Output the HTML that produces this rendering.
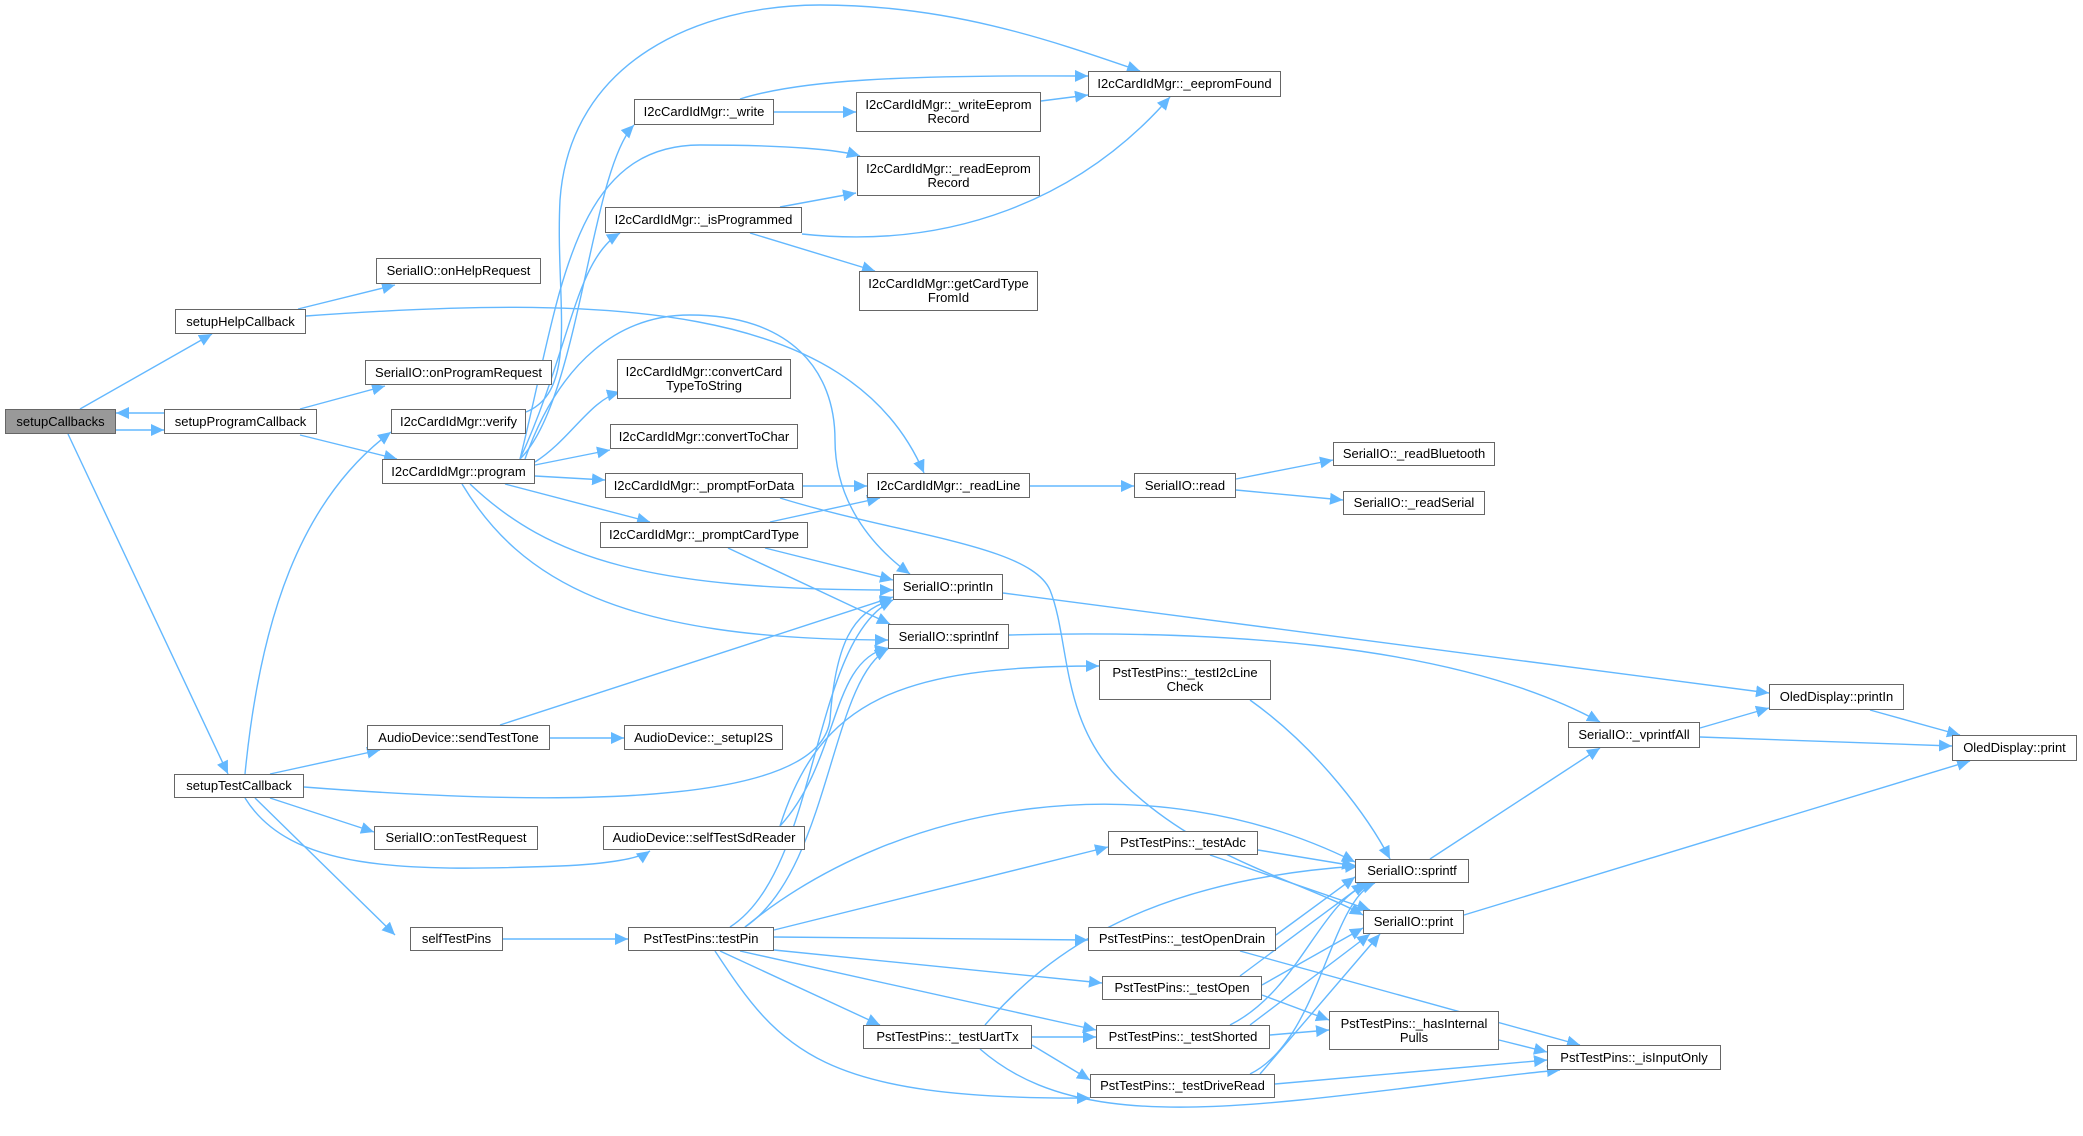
<!DOCTYPE html>
<html><head><meta charset="utf-8">
<style>
html,body{margin:0;padding:0;background:#fff;}
#w{position:relative;width:2083px;height:1136px;overflow:hidden;background:#fff;}
svg{position:absolute;left:0;top:0;}
.n{position:absolute;box-sizing:border-box;border:1.5px solid #666;background:#fff;font-family:"Liberation Sans",Arial,sans-serif;font-size:13px;color:#000;text-align:center;display:flex;align-items:center;justify-content:center;line-height:14px;white-space:nowrap;}
.g{background:#999;}
</style></head><body><div id="w">
<svg width="2083" height="1136" viewBox="0 0 2083 1136">
<defs><marker id="a" markerUnits="userSpaceOnUse" markerWidth="16" markerHeight="14" refX="13" refY="6" orient="auto"><path d="M0,0 L13,6 L0,12 z" fill="#63b8ff"/></marker></defs>
<g fill="none" stroke="#63b8ff" stroke-width="1.4" marker-end="url(#a)">
<path d="M80,409 L212,334"/>
<path d="M116,430 L164,430"/>
<path d="M164,413 L116,413"/>
<path d="M68,434 L228,774"/>
<path d="M298,309 L395,285"/>
<path d="M306,316 C600,295 850,300 924,473"/>
<path d="M300,409 L385,386"/>
<path d="M300,435 L397,459"/>
<path d="M245,774 C260,620 300,500 391,432"/>
<path d="M526,412 C580,390 555,300 560,200 C570,60 700,5 820,5 C950,5 1050,40 1140,71"/>
<path d="M520,459 C580,400 590,170 634,125"/>
<path d="M520,459 C560,300 570,145 700,145 C790,145 840,150 860,156"/>
<path d="M520,459 C570,350 575,260 620,233"/>
<path d="M535,462 C570,440 590,400 620,392"/>
<path d="M535,465 L610,450"/>
<path d="M535,476 L605,480"/>
<path d="M505,484 L650,522"/>
<path d="M470,484 C550,560 650,590 893,590"/>
<path d="M462,484 C520,580 620,640 888,640"/>
<path d="M525,459 C560,360 620,315 690,315 C790,315 835,370 835,440 C835,500 870,545 910,574"/>
<path d="M740,99 C800,80 900,75 1088,76"/>
<path d="M774,112 L856,112"/>
<path d="M1041,101 L1088,95"/>
<path d="M780,207 L856,193"/>
<path d="M802,234 C950,250 1080,200 1170,97"/>
<path d="M750,233 L875,271"/>
<path d="M803,486 L867,486"/>
<path d="M780,498 C900,535 1030,545 1050,590 C1070,640 1060,720 1120,780 C1200,860 1300,880 1363,915"/>
<path d="M770,522 L880,498"/>
<path d="M765,548 L893,580"/>
<path d="M728,548 L890,624"/>
<path d="M1030,486 L1134,486"/>
<path d="M1236,479 L1333,460"/>
<path d="M1236,490 L1343,500"/>
<path d="M1003,593 L1769,693"/>
<path d="M1009,635 C1200,630 1450,640 1600,722"/>
<path d="M1250,700 C1320,750 1370,820 1390,859"/>
<path d="M1700,728 L1769,708"/>
<path d="M1700,737 L1952,746"/>
<path d="M1870,710 L1960,735"/>
<path d="M1430,859 L1600,748"/>
<path d="M1464,915 L1970,761"/>
<path d="M500,725 L893,597"/>
<path d="M550,738 L624,738"/>
<path d="M270,774 L380,750"/>
<path d="M270,798 L374,832"/>
<path d="M245,798 C290,870 400,872 560,866 C610,864 640,858 650,851"/>
<path d="M255,798 L395,935"/>
<path d="M304,787 C600,810 820,800 830,720 C835,650 850,610 893,600"/>
<path d="M780,826 C840,760 830,660 888,648"/>
<path d="M780,826 C820,700 900,666 1099,666"/>
<path d="M503,939 L628,939"/>
<path d="M730,927 C820,870 810,640 893,600"/>
<path d="M745,927 C830,870 830,680 888,649"/>
<path d="M745,927 C900,800 1150,760 1355,862"/>
<path d="M774,930 L1108,847"/>
<path d="M774,937 L1088,940"/>
<path d="M774,950 L1102,983"/>
<path d="M740,951 L1096,1030"/>
<path d="M720,951 L880,1025"/>
<path d="M715,951 C780,1050 820,1100 1090,1098"/>
<path d="M1258,850 L1355,866"/>
<path d="M1210,855 L1370,910"/>
<path d="M1276,935 L1355,877"/>
<path d="M1240,951 L1580,1045"/>
<path d="M1262,985 L1363,928"/>
<path d="M1240,976 L1365,883"/>
<path d="M1262,995 L1329,1020"/>
<path d="M1230,1025 C1300,990 1320,900 1370,883"/>
<path d="M1250,1025 L1370,934"/>
<path d="M1270,1035 L1329,1030"/>
<path d="M1250,1074 C1320,1040 1330,900 1375,883"/>
<path d="M1260,1074 L1380,934"/>
<path d="M1275,1084 L1547,1060"/>
<path d="M1499,1040 L1547,1052"/>
<path d="M985,1025 C1050,950 1150,880 1358,866"/>
<path d="M1032,1037 L1096,1037"/>
<path d="M1032,1045 L1090,1080"/>
<path d="M980,1049 C1050,1110 1150,1115 1300,1100 C1400,1090 1500,1075 1560,1070"/>
</g>
</svg>
<div class="n g" style="left:5px;top:409px;width:111px;height:25px">setupCallbacks</div>
<div class="n" style="left:175px;top:309px;width:131px;height:25px">setupHelpCallback</div>
<div class="n" style="left:164px;top:409px;width:153px;height:25px">setupProgramCallback</div>
<div class="n" style="left:174px;top:774px;width:130px;height:24px">setupTestCallback</div>
<div class="n" style="left:376px;top:258px;width:165px;height:26px">SerialIO::onHelpRequest</div>
<div class="n" style="left:365px;top:360px;width:187px;height:25px">SerialIO::onProgramRequest</div>
<div class="n" style="left:391px;top:409px;width:135px;height:25px">I2cCardIdMgr::verify</div>
<div class="n" style="left:382px;top:459px;width:153px;height:25px">I2cCardIdMgr::program</div>
<div class="n" style="left:634px;top:99px;width:140px;height:26px">I2cCardIdMgr::_write</div>
<div class="n" style="left:605px;top:207px;width:197px;height:26px">I2cCardIdMgr::_isProgrammed</div>
<div class="n" style="left:617px;top:359px;width:174px;height:40px">I2cCardIdMgr::convertCard<br>TypeToString</div>
<div class="n" style="left:610px;top:424px;width:188px;height:25px">I2cCardIdMgr::convertToChar</div>
<div class="n" style="left:605px;top:473px;width:198px;height:25px">I2cCardIdMgr::_promptForData</div>
<div class="n" style="left:600px;top:522px;width:208px;height:26px">I2cCardIdMgr::_promptCardType</div>
<div class="n" style="left:1088px;top:71px;width:193px;height:26px">I2cCardIdMgr::_eepromFound</div>
<div class="n" style="left:856px;top:92px;width:185px;height:40px">I2cCardIdMgr::_writeEeprom<br>Record</div>
<div class="n" style="left:857px;top:156px;width:183px;height:40px">I2cCardIdMgr::_readEeprom<br>Record</div>
<div class="n" style="left:859px;top:271px;width:179px;height:40px">I2cCardIdMgr::getCardType<br>FromId</div>
<div class="n" style="left:867px;top:473px;width:163px;height:25px">I2cCardIdMgr::_readLine</div>
<div class="n" style="left:1134px;top:473px;width:102px;height:25px">SerialIO::read</div>
<div class="n" style="left:1333px;top:442px;width:162px;height:24px">SerialIO::_readBluetooth</div>
<div class="n" style="left:1343px;top:491px;width:142px;height:24px">SerialIO::_readSerial</div>
<div class="n" style="left:893px;top:574px;width:110px;height:26px">SerialIO::printIn</div>
<div class="n" style="left:888px;top:624px;width:121px;height:25px">SerialIO::sprintlnf</div>
<div class="n" style="left:1099px;top:660px;width:172px;height:40px">PstTestPins::_testI2cLine<br>Check</div>
<div class="n" style="left:1568px;top:722px;width:132px;height:26px">SerialIO::_vprintfAll</div>
<div class="n" style="left:1769px;top:684px;width:135px;height:26px">OledDisplay::printIn</div>
<div class="n" style="left:1952px;top:735px;width:125px;height:26px">OledDisplay::print</div>
<div class="n" style="left:367px;top:725px;width:183px;height:25px">AudioDevice::sendTestTone</div>
<div class="n" style="left:624px;top:725px;width:159px;height:25px">AudioDevice::_setupI2S</div>
<div class="n" style="left:374px;top:826px;width:164px;height:24px">SerialIO::onTestRequest</div>
<div class="n" style="left:603px;top:826px;width:202px;height:24px">AudioDevice::selfTestSdReader</div>
<div class="n" style="left:410px;top:927px;width:93px;height:24px">selfTestPins</div>
<div class="n" style="left:628px;top:927px;width:146px;height:24px">PstTestPins::testPin</div>
<div class="n" style="left:863px;top:1025px;width:169px;height:24px">PstTestPins::_testUartTx</div>
<div class="n" style="left:1108px;top:831px;width:150px;height:24px">PstTestPins::_testAdc</div>
<div class="n" style="left:1088px;top:927px;width:188px;height:24px">PstTestPins::_testOpenDrain</div>
<div class="n" style="left:1102px;top:976px;width:160px;height:24px">PstTestPins::_testOpen</div>
<div class="n" style="left:1096px;top:1025px;width:174px;height:24px">PstTestPins::_testShorted</div>
<div class="n" style="left:1090px;top:1074px;width:185px;height:24px">PstTestPins::_testDriveRead</div>
<div class="n" style="left:1355px;top:859px;width:114px;height:24px">SerialIO::sprintf</div>
<div class="n" style="left:1363px;top:910px;width:101px;height:24px">SerialIO::print</div>
<div class="n" style="left:1329px;top:1011px;width:170px;height:39px">PstTestPins::_hasInternal<br>Pulls</div>
<div class="n" style="left:1547px;top:1045px;width:174px;height:25px">PstTestPins::_isInputOnly</div>
</div></body></html>
